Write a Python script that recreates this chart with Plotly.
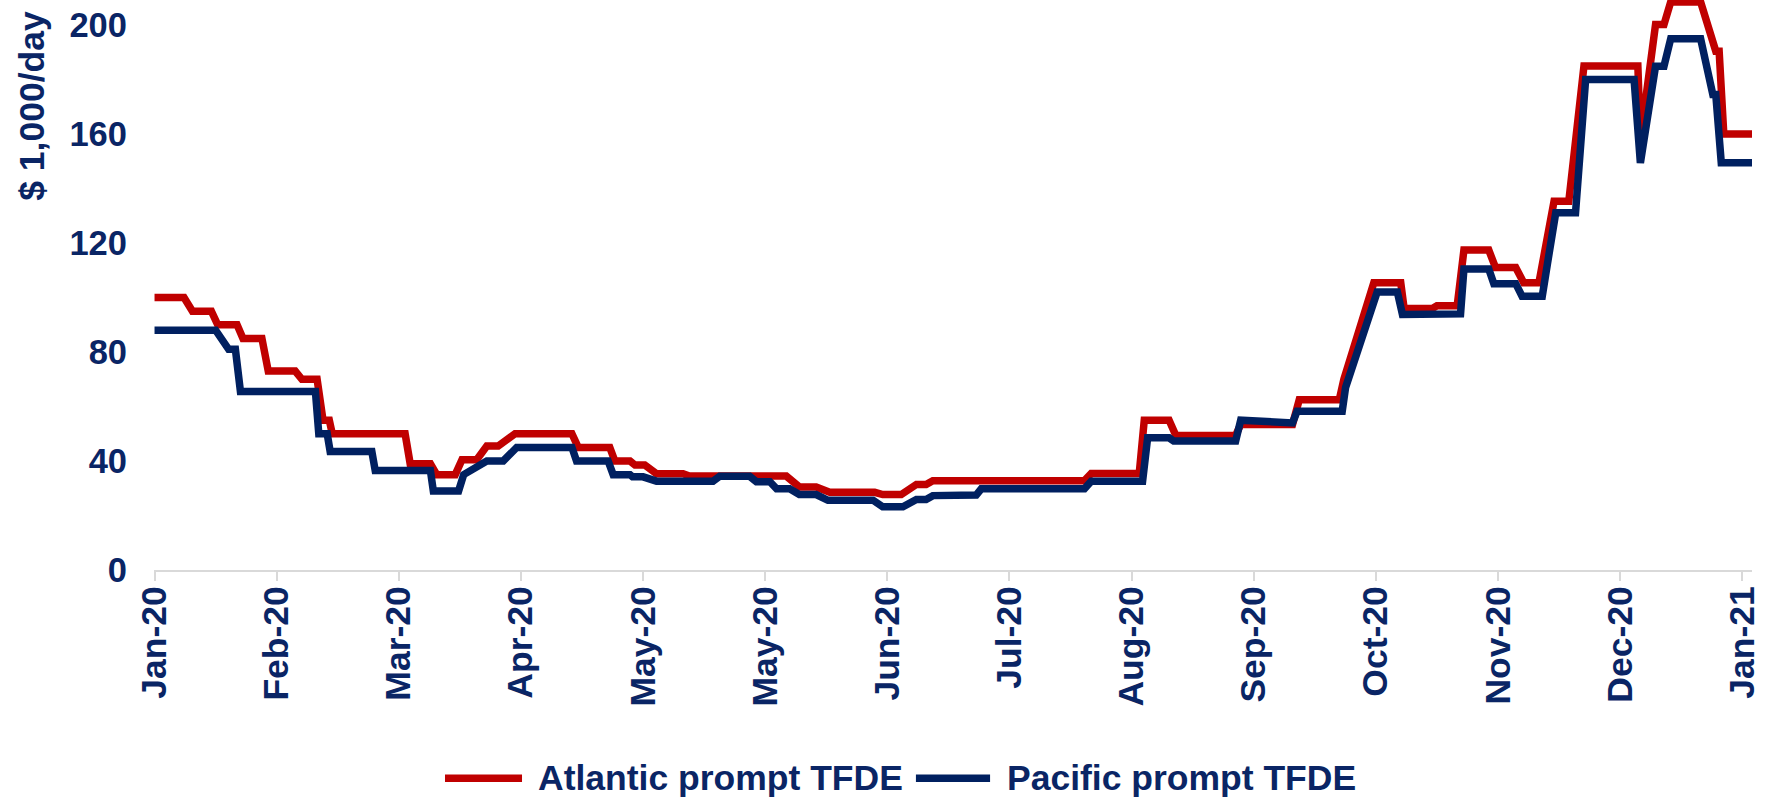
import pandas as pd
import plotly.graph_objects as go

# ---------------- data ----------------
START_DATE = "2020-01-06"
series_names = ["Atlantic prompt TFDE", "Pacific prompt TFDE"]

# days since START_DATE, and charter rate ($1,000/day)
atl_day = [0, 7, 9, 13.5, 15, 19.6, 21, 25.5, 27, 33.4, 35, 38.6, 40, 41.5, 42.2,
           59.5, 60.7, 65.5, 67, 71.4, 73, 76.5, 78.9, 81.6, 85.6,
           99.1, 100.6, 108.1, 109.3, 112.9, 114.1, 116.4, 119.2, 125.5, 127,
           150, 153.1, 157.1, 160.3, 171, 172.9, 177.3, 180.9, 183.2, 184.8,
           220.8, 222.4, 233.8, 235, 240.9, 242.5, 256.7, 257.9, 270.2, 271.8,
           281.3, 282.4, 285.2, 289.5, 295.9, 296.7, 303.4, 304.5, 309.3, 310.9,
           316.8, 318.4, 323.2, 325.1, 328.7, 329.9, 332.3, 335.8, 339.4, 352.2,
           352.8, 356.4, 358.4, 360, 367.1, 370.7, 371.5, 372.6, 379.3]
atl_val = [100, 100, 95, 95, 90, 90, 85, 85, 73, 73, 70, 70, 55, 55, 50,
           50, 39, 39, 35, 35, 40.5, 40.5, 45.5, 45.5, 50,
           50, 45, 45, 40, 40, 38.5, 38.5, 35.3, 35.3, 34.5,
           34.5, 30.5, 30.5, 28.5, 28.5, 27.7, 27.7, 31.4, 31.4, 32.8,
           32.8, 35.4, 35.4, 55, 55, 49.4, 49.4, 53.4, 53.4, 62.5,
           62.5, 70, 84, 105.4, 105.4, 96, 96, 97, 97, 117.4,
           117.4, 111, 111, 105.4, 105.4, 115, 135.3, 135.3, 185, 185,
           158, 200.2, 200.2, 208.5, 208.5, 190.4, 190.4, 160, 160]

pac_day = [0, 14.5, 17.6, 19.2, 20.4, 38.2, 39, 41, 41.7, 51.6, 52.4, 65.5, 66.2,
           72.2, 73.4, 78.9, 82.8, 86, 99.1, 100.2, 107.7, 108.9, 112.9, 113.5,
           116, 119.2, 132.6, 134.2, 141.3, 142.9, 146.1, 147.7, 150.8, 153.1,
           157.1, 159.9, 170.6, 172.9, 177.7, 180.9, 183.2, 184.8, 195.1, 196.3,
           220.8, 222.4, 234.6, 235.8, 240.9, 242, 256.7, 257.9, 270.2, 271.3,
           282, 282.8, 290.3, 295.1, 296.3, 304.5, 310.1, 310.9, 316.8, 318,
           323.2, 324.7, 329.5, 330.7, 332.7, 337.4, 339.8, 351.3, 352.8, 356.4,
           358.4, 360, 367.1, 370, 370.7, 372, 379.3]
pac_val = [88, 88, 81, 81, 65.5, 65.5, 50, 50, 43.5, 43.5, 36.5, 36.5, 29,
           29, 35, 40, 40, 45, 45, 40, 40, 35, 35, 34.2,
           34.2, 32.6, 32.6, 34.4, 34.4, 32.4, 32.4, 29.8, 29.8, 27.7,
           27.7, 25.6, 25.6, 23.2, 23.2, 25.9, 25.9, 27.3, 27.5, 29.8,
           29.8, 32.6, 32.6, 48.5, 48.5, 47.3, 47.3, 55, 54, 58.3,
           58.3, 67, 102, 102, 93.8, 94, 94, 110.5, 110.5, 105.1,
           105.1, 100.5, 100.5, 112.1, 131.1, 131.1, 180, 180, 149.4, 184.9,
           184.9, 195, 195, 174.5, 174.5, 149.5, 149.5]

x_tick_dates = ["2020-01-06", "2020-02-04", "2020-03-04", "2020-04-02", "2020-05-01",
                "2020-05-30", "2020-06-28", "2020-07-27", "2020-08-25", "2020-09-23",
                "2020-10-22", "2020-11-20", "2020-12-19", "2021-01-17"]
x_tick_labels = ["Jan-20", "Feb-20", "Mar-20", "Apr-20", "May-20", "May-20", "Jun-20",
                 "Jul-20", "Aug-20", "Sep-20", "Oct-20", "Nov-20", "Dec-20", "Jan-21"]
y_ticks = [0, 40, 80, 120, 160, 200]
y_title = "$ 1,000/day"

# ---------------- style ----------------
RED = "#C00000"
NAVY = "#002060"
TXT = "#0A2565"
AXIS_GREY = "#D9D9D9"
FONT = "Liberation Sans, Arial, sans-serif"
LINE_W = 7.5

start = pd.Timestamp(START_DATE)


def to_dates(days):
    return [start + pd.Timedelta(days=d) for d in days]


fig = go.Figure()
fig.add_trace(go.Scatter(x=to_dates(atl_day), y=atl_val, name=series_names[0],
                         mode="lines", line=dict(color=RED, width=LINE_W),
                         showlegend=False))
fig.add_trace(go.Scatter(x=to_dates(pac_day), y=pac_val, name=series_names[1],
                         mode="lines", line=dict(color=NAVY, width=LINE_W),
                         showlegend=False))

x_end = start + pd.Timedelta(days=379.3)
x_begin = start - pd.Timedelta(hours=3)

# legend drawn below the plot: a line sample followed by the series name
legend_y = -0.3655
legend_items = [
    dict(color=RED, x0=0.1821, x1=0.2303, tx=0.2390, text=series_names[0]),
    dict(color=NAVY, x0=0.4768, x1=0.5232, tx=0.5325, text=series_names[1]),
]
shapes = []
annotations = [dict(text=y_title, textangle=-90, xref="paper", yref="paper",
                    x=-0.0765, y=0.814, xanchor="center", yanchor="middle",
                    showarrow=False,
                    font=dict(family=FONT, size=35.5, color=TXT, weight="bold"))]
for it in legend_items:
    shapes.append(dict(type="line", xref="paper", yref="paper",
                       x0=it["x0"], x1=it["x1"], y0=legend_y, y1=legend_y,
                       line=dict(color=it["color"], width=LINE_W)))
    annotations.append(dict(text=it["text"], xref="paper", yref="paper",
                            x=it["tx"], y=legend_y, xanchor="left", yanchor="middle",
                            showarrow=False,
                            font=dict(family=FONT, size=35.5, color=TXT, weight="bold")))

fig.update_layout(
    width=1770, height=799,
    margin=dict(l=154, r=18, t=0, b=229, autoexpand=False),
    paper_bgcolor="white", plot_bgcolor="white",
    font=dict(family=FONT, color=TXT, size=34, weight="bold"),
    showlegend=False,
    xaxis=dict(type="date", range=[x_begin, x_end],
               tickvals=x_tick_dates, ticktext=x_tick_labels, tickangle=-90,
               ticks="outside", ticklen=9, tickwidth=2, tickcolor=AXIS_GREY,
               showline=True, linecolor=AXIS_GREY, linewidth=2,
               showgrid=False, zeroline=False, automargin=False,
               ticklabelstandoff=-9,
               tickfont=dict(family=FONT, size=35.5, color=TXT, weight="bold")),
    yaxis=dict(range=[0, 209.2], tickvals=y_ticks, ticks="",
               showline=False, showgrid=False, zeroline=False, automargin=False,
               ticklabelstandoff=26,
               tickfont=dict(family=FONT, size=34.5, color=TXT, weight="bold")),
    shapes=shapes,
    annotations=annotations,
)

fig.write_html("out.html", config={"displayModeBar": False},
               post_script="document.body.style.margin='0px';")
